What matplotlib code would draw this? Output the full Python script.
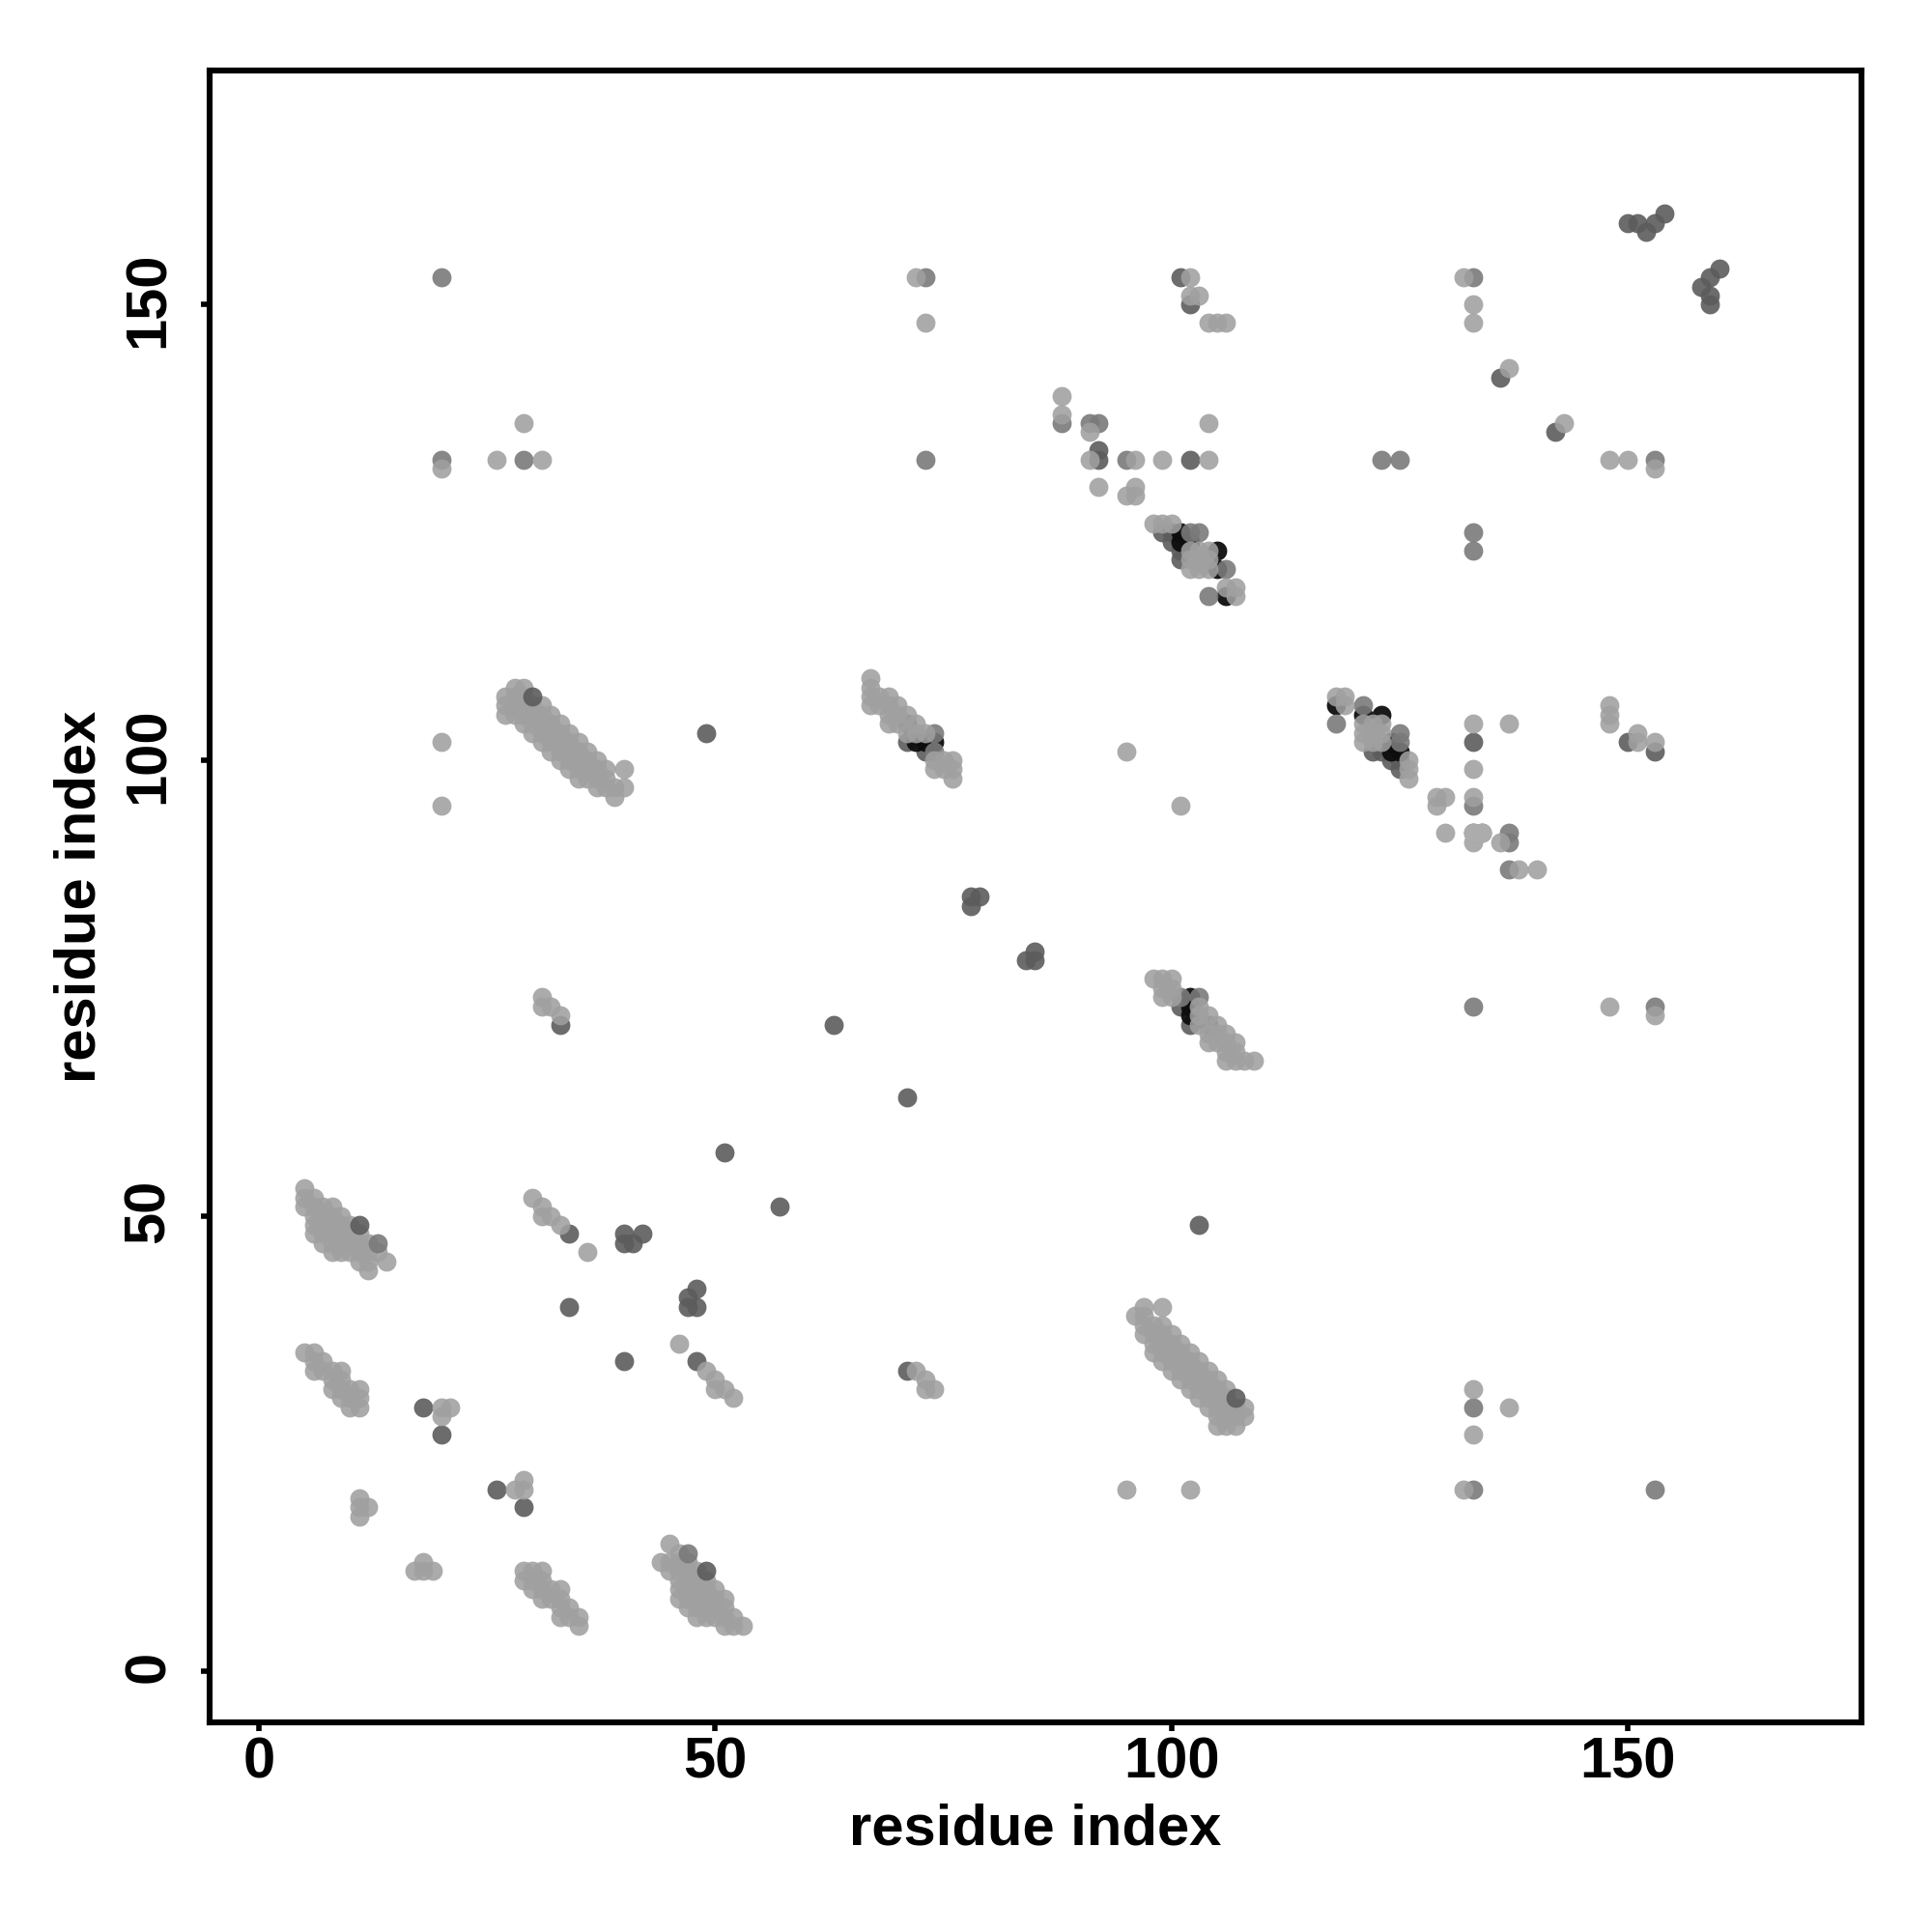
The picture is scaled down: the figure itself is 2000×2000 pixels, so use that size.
import matplotlib
matplotlib.use("Agg")
import matplotlib.pyplot as plt
from matplotlib.transforms import ScaledTranslation

plt.rcParams["font.family"] = ["Liberation Sans", "DejaVu Sans"]
plt.rcParams["font.weight"] = "bold"

# contacts as {residue i: [residues j]}, the map is symmetric so each is drawn twice
light_contacts = {
    5: [35, 51, 52, 53],
    6: [33, 34, 35, 48, 49, 50, 51, 52],
    7: [33, 34, 47, 48, 49, 50, 51],
    8: [31, 32, 33, 46, 47, 48, 49, 50, 51],
    9: [30, 31, 32, 33, 46, 47, 48, 49, 50],
    10: [29, 30, 31, 46, 47, 48, 49],
    11: [17, 18, 19, 29, 30, 31, 45, 46, 47, 48],
    12: [18, 44, 45, 46, 47],
    13: [46],
    14: [45],
    20: [28, 29, 95, 102, 132],
    21: [29],
    26: [133],
    27: [105, 106, 107],
    28: [105, 106, 107, 108],
    29: [104, 105, 106, 107, 108, 137],
    30: [52, 103, 104, 105, 106],
    31: [50, 51, 73, 74, 102, 103, 104, 105, 106, 133],
    32: [50, 73, 101, 102, 103, 104, 105],
    33: [49, 72, 100, 101, 102, 103, 104],
    34: [99, 100, 101, 102, 103],
    35: [98, 99, 100, 101, 102],
    36: [46, 98, 99, 100, 101],
    37: [97, 98, 99, 100],
    38: [97, 98, 99],
    39: [96, 97],
    40: [97, 99],
    67: [106, 107, 108, 109],
    68: [106, 107],
    69: [104, 105, 106, 107],
    70: [104, 105, 106],
    71: [103, 105],
    72: [103, 104, 153],
    73: [103, 148],
    74: [99, 100],
    75: [99, 100],
    76: [98, 99, 100],
    88: [138, 140],
    91: [133, 136],
    92: [130],
    95: [101, 129],
    96: [129, 130, 133],
    98: [126],
    99: [126, 133],
    100: [126],
    102: [121, 122, 123, 151, 153],
    103: [121, 122, 123, 151],
    104: [121, 122, 123, 133, 137, 148],
    105: [148],
    106: [119, 148],
    107: [118, 119],
    132: [153],
    133: [148, 150],
    137: [143],
}
gray_contacts = {
    20: [133, 153],
    29: [133],
    73: [133, 153],
    74: [101, 103],
    88: [137],
    91: [137],
    92: [137],
    95: [133],
    102: [125],
    103: [125],
    104: [118],
    106: [121],
    123: [133],
    125: [133],
    133: [153],
}
dark_contacts = {
    18: [29],
    20: [26],
    33: [71],
    34: [40, 48],
    40: [47, 48],
    41: [47],
    42: [48],
    49: [103],
    51: [57],
    63: [71],
    71: [102, 104],
    73: [101],
    78: [84, 85],
    79: [85],
    92: [133, 134],
    99: [125],
    100: [124, 125],
    101: [122, 123, 153],
    102: [133, 150],
    136: [142],
    150: [159],
    151: [159],
    152: [158],
    153: [159],
    154: [160],
}
black_contacts = {
    72: [102],
    73: [102],
    74: [102],
    101: [124, 125],
    102: [124],
    105: [121, 123],
    106: [118],
}
# these few sit on top of the light bands
top_gray_contacts = {13: [47]}
top_dark_contacts = {11: [49], 30: [107]}
# light on the right side only, over the dark mirrored ones
one_sided_x = [133, 134]
one_sided_y = [92, 92]

x_ticks = [0, 50, 100, 150]
y_ticks = [0, 50, 100, 150]

LIGHT = ("#a0a0a0", 0.88)
GRAY = ("#7a7a7a", 0.9)
DARK = ("#5c5c5c", 0.9)
BLACK = ("#0d0d0d", 0.95)
MARKER_SIZE = 51


def draw_contacts(ax, contacts, shade):
    xs, ys = [], []
    for i, partners in contacts.items():
        for j in partners:
            xs += [i, j]
            ys += [j, i]
    ax.scatter(xs, ys, s=MARKER_SIZE, c=shade[0], alpha=shade[1], linewidths=0)


fig = plt.figure(figsize=(10, 10), dpi=200)
ax = fig.add_axes([217 / 2000, 1 - 1783 / 2000, 1710 / 2000, 1710 / 2000])

draw_contacts(ax, dark_contacts, DARK)
draw_contacts(ax, black_contacts, BLACK)
draw_contacts(ax, gray_contacts, GRAY)
draw_contacts(ax, light_contacts, LIGHT)
ax.scatter(one_sided_x, one_sided_y, s=MARKER_SIZE, c="#acacac", linewidths=0)
draw_contacts(ax, top_gray_contacts, GRAY)
draw_contacts(ax, top_dark_contacts, DARK)

ax.set_xlim(-5.4, 175.6)
ax.set_ylim(-5.6, 175.7)
ax.set_xticks(x_ticks)
ax.set_yticks(y_ticks)
ax.tick_params(axis="both", length=3.2, width=2, labelsize=21.5)
ax.tick_params(axis="x", pad=2)
ax.tick_params(axis="y", pad=9.4)
# rotated labels sit a little low otherwise
up = ScaledTranslation(0, 1.8 / 72, fig.dpi_scale_trans)
for label in ax.get_yticklabels():
    label.set_rotation(90)
    label.set_va("center")
    label.set_transform(label.get_transform() + up)
for spine in ax.spines.values():
    spine.set_linewidth(2.2)

ax.set_xlabel("residue index", fontsize=21.5, fontweight="bold", labelpad=5)
ax.set_ylabel("residue index", fontsize=21.5, fontweight="bold", labelpad=6)

fig.savefig("out.png", dpi=200)
plt.close(fig)
